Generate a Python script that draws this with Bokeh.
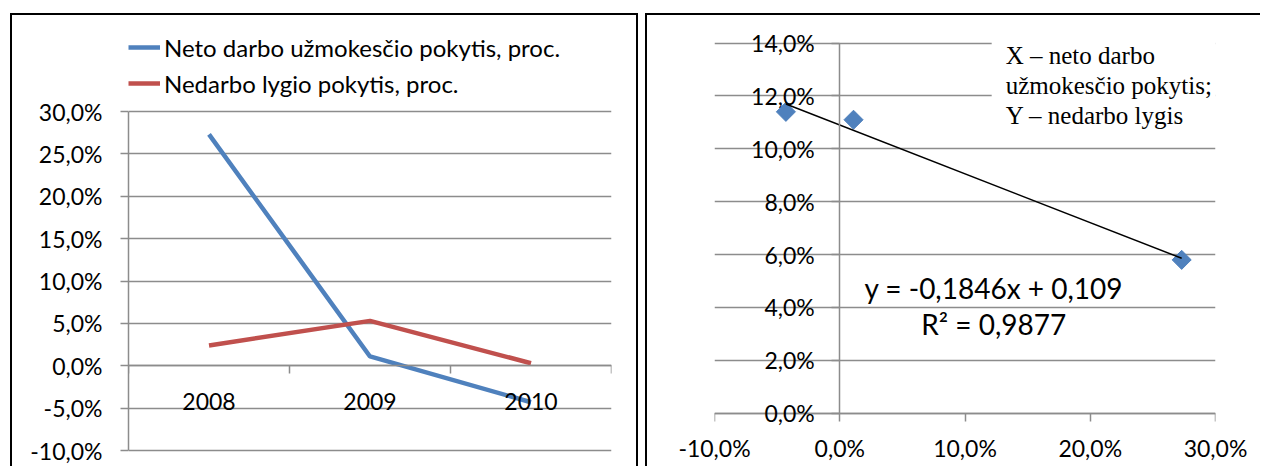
from bokeh.plotting import figure
from bokeh.models import (FactorRange, Range1d, LinearAxis, CategoricalAxis, FixedTicker,
                          Legend, LegendItem, Label, Grid)
from bokeh.embed import file_html
from bokeh.resources import INLINE

# ---------------- data ----------------
years = ["2008", "2009", "2010"]
wage_change = [27.3, 1.1, -4.3]        # Neto darbo užmokesčio pokytis, proc.
unemp_change = [2.4, 5.3, 0.3]         # Nedarbo lygio pokytis, proc.
series_names = ["Neto darbo užmokesčio pokytis, proc.", "Nedarbo lygio pokytis, proc."]

left_y_ticks = [-10, -5, 0, 5, 10, 15, 20, 25, 30]
left_y_labels = ["-10,0%", "-5,0%", "0,0%", "5,0%", "10,0%", "15,0%", "20,0%", "25,0%", "30,0%"]

scatter_x = [-4.3, 1.1, 27.3]          # X – neto darbo užmokesčio pokytis
scatter_y = [11.4, 11.1, 5.8]          # Y – nedarbo lygis
trend_slope = -0.1846
trend_intercept = 0.109
trend_r2 = 0.9877

right_x_ticks = [-10, 0, 10, 20, 30]
right_x_labels = ["-10,0%", "0,0%", "10,0%", "20,0%", "30,0%"]
right_y_ticks = [0, 2, 4, 6, 8, 10, 12, 14]
right_y_labels = ["0,0%", "2,0%", "4,0%", "6,0%", "8,0%", "10,0%", "12,0%", "14,0%"]

note_text = "X – neto darbo\nužmokesčio pokytis;\nY – nedarbo lygis"

# ---------------- styles ----------------
FONT = "Lato"
TICK_SIZE = "23px"
GRID_COLOR = "#8c8c8c"
BLUE = "#4F81BD"
RED = "#C0504D"


def style_axis(ax, labels=True):
    ax.axis_line_color = GRID_COLOR
    ax.axis_line_width = 1.5
    ax.major_tick_line_color = GRID_COLOR
    ax.major_tick_line_width = 1.5
    ax.major_tick_out = 8
    ax.major_tick_in = 0
    ax.minor_tick_line_color = None
    ax.major_label_text_font = FONT
    ax.major_label_text_font_size = TICK_SIZE
    ax.major_label_text_color = "black" if labels else None


# ---------------- left chart ----------------
p1 = figure(width=628, height=453, x_range=FactorRange(*years, range_padding=0),
            y_range=Range1d(-12.12, 41.33), x_axis_location=None, y_axis_location=None,
            output_backend="svg", toolbar_location=None,
            min_border_left=116, min_border_right=29, min_border_top=0, min_border_bottom=0)
for g in p1.grid:
    g.visible = False
p1.outline_line_color = None
p1.styles = {"position": "absolute", "left": "10px", "top": "13px",
             "border-top": "2px solid black", "border-left": "2px solid black",
             "border-right": "2px solid black"}

ly = LinearAxis(ticker=FixedTicker(ticks=left_y_ticks),
                major_label_overrides=dict(zip(left_y_ticks, left_y_labels)),
                bounds=(left_y_ticks[0], left_y_ticks[-1]))
style_axis(ly)
ly.major_label_standoff = 18
p1.add_layout(ly, "left")

p1.add_layout(Grid(dimension=1, ticker=ly.ticker, grid_line_color=GRID_COLOR, grid_line_width=1.5))

# tick marks at category boundaries on the zero line (synthetic factor coordinates)
edge_axis = LinearAxis(ticker=FixedTicker(ticks=list(range(len(years) + 1))), fixed_location=0)
style_axis(edge_axis, labels=False)
p1.add_layout(edge_axis, "below")

cat_axis = CategoricalAxis(fixed_location=0)
style_axis(cat_axis)
cat_axis.axis_line_color = None
cat_axis.major_tick_line_color = None
cat_axis.major_label_standoff = 19
p1.add_layout(cat_axis, "below")

r_wage = p1.line(years, wage_change, line_color=BLUE, line_width=4.5)
r_unemp = p1.line(years, unemp_change, line_color=RED, line_width=4.5)

legend = Legend(items=[LegendItem(label=series_names[0], renderers=[r_wage]),
                       LegendItem(label=series_names[1], renderers=[r_unemp])],
                location=(0, 370), orientation="vertical")
legend.padding = 0
legend.margin = 0
legend.spacing = 6
legend.glyph_width = 32
legend.glyph_height = 30
legend.label_height = 30
legend.label_standoff = 4
legend.label_text_font = FONT
legend.label_text_font_size = "24px"
legend.label_text_color = "black"
legend.border_line_color = None
legend.background_fill_color = None
p1.add_layout(legend)

# ---------------- right chart ----------------
p2 = figure(width=615, height=453, x_range=Range1d(-10, 30), y_range=Range1d(-0.503, 14.59),
            x_axis_location=None, y_axis_location=None,
            output_backend="svg", toolbar_location=None,
            min_border_left=67, min_border_right=47, min_border_top=12, min_border_bottom=42)
for g in p2.grid:
    g.visible = False
p2.outline_line_color = None
p2.styles = {"position": "absolute", "left": "645px", "top": "13px",
             "border-top": "2px solid black", "border-left": "2px solid black"}

rx_line = LinearAxis(ticker=FixedTicker(ticks=right_x_ticks), fixed_location=0,
                     bounds=(right_x_ticks[0], right_x_ticks[-1]))
style_axis(rx_line, labels=False)
p2.add_layout(rx_line, "below")

rx_lab = LinearAxis(ticker=FixedTicker(ticks=right_x_ticks),
                    major_label_overrides=dict(zip(right_x_ticks, right_x_labels)))
style_axis(rx_lab)
rx_lab.axis_line_color = None
rx_lab.major_tick_line_color = None
rx_lab.major_tick_out = 0
rx_lab.major_label_standoff = 7
p2.add_layout(rx_lab, "below")

ry = LinearAxis(ticker=FixedTicker(ticks=right_y_ticks),
                major_label_overrides=dict(zip(right_y_ticks, right_y_labels)),
                fixed_location=0, bounds=(right_y_ticks[0], right_y_ticks[-1]))
style_axis(ry)
ry.major_label_standoff = 17
p2.add_layout(ry, "left")

p2.add_layout(Grid(dimension=1, ticker=ry.ticker, grid_line_color=GRID_COLOR, grid_line_width=1.5))

p2.scatter(scatter_x, scatter_y, marker="square", angle=0.785398, size=13.5,
           fill_color=BLUE, line_color=BLUE)

x_ends = [min(scatter_x), max(scatter_x)]
y_ends = [trend_slope * xv + trend_intercept * 100 for xv in x_ends]
p2.line(x_ends, y_ends, line_color="black", line_width=1.5)

eq_text = f"y = {trend_slope:.4f}x + {trend_intercept:.3f}".replace(".", ",")
r2_text = f"R² = {trend_r2:.4f}".replace(".", ",")
p2.add_layout(Label(x=12.3, y=4.74, text=eq_text, text_align="center", text_baseline="middle",
                    text_font=FONT, text_font_size="28px", text_color="black"))
p2.add_layout(Label(x=12.3, y=3.36, text=r2_text, text_align="center", text_baseline="middle",
                    text_font=FONT, text_font_size="28px", text_color="black"))

# padding given as (left, right, top, bottom)
p2.add_layout(Label(x=12.13, y=14.52, text=note_text, text_align="left", text_baseline="top",
                    text_font="Liberation Serif", text_font_size="25px", text_color="black",
                    text_line_height=1.1, background_fill_color="white",
                    padding=(14, 12, 13, 4)))

open("out.html", "w").write(file_html([p1, p2], INLINE))
